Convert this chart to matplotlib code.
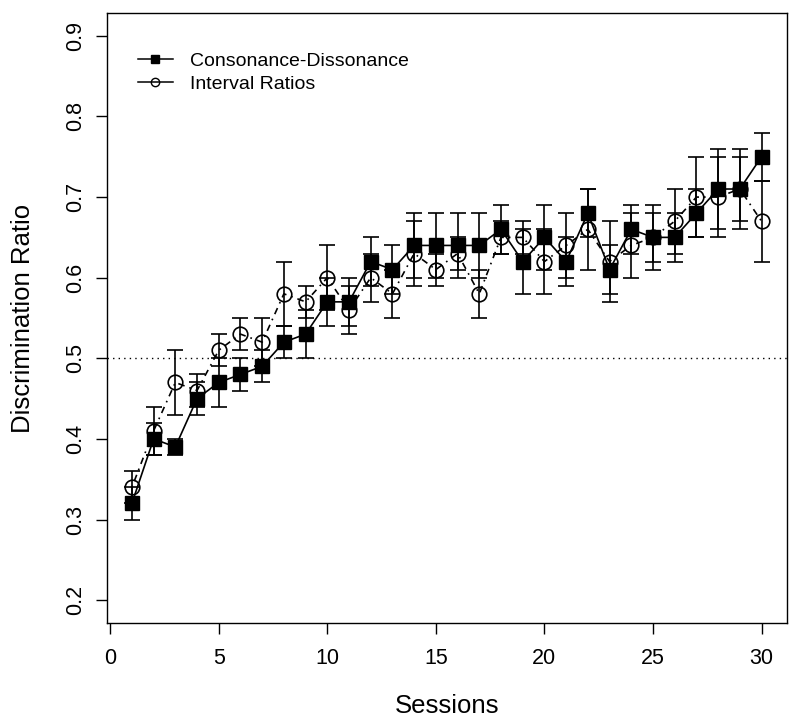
import matplotlib
matplotlib.use('Agg')
import matplotlib.pyplot as plt
from matplotlib.lines import Line2D

plt.rcParams['font.family'] = ['Liberation Sans', 'DejaVu Sans']

# values
sessions = list(range(1, 31))
cd = [0.32, 0.40, 0.39, 0.45, 0.47, 0.48, 0.49, 0.52, 0.53, 0.57,
      0.57, 0.62, 0.61, 0.64, 0.64, 0.64, 0.64, 0.66, 0.62, 0.65,
      0.62, 0.68, 0.61, 0.66, 0.65, 0.65, 0.68, 0.71, 0.71, 0.75]
cd_err = [0.02, 0.02, 0.01, 0.02, 0.03, 0.02, 0.02, 0.02, 0.03, 0.03,
          0.03, 0.03, 0.03, 0.04, 0.04, 0.04, 0.04, 0.03, 0.04, 0.04,
          0.03, 0.03, 0.03, 0.03, 0.04, 0.03, 0.03, 0.05, 0.05, 0.03]
ir = [0.34, 0.41, 0.47, 0.46, 0.51, 0.53, 0.52, 0.58, 0.57, 0.60,
      0.56, 0.60, 0.58, 0.63, 0.61, 0.63, 0.58, 0.65, 0.65, 0.62,
      0.64, 0.66, 0.62, 0.64, 0.65, 0.67, 0.70, 0.70, 0.71, 0.67]
ir_err = [0.02, 0.03, 0.04, 0.02, 0.02, 0.02, 0.03, 0.04, 0.02, 0.04,
          0.03, 0.03, 0.03, 0.04, 0.02, 0.02, 0.03, 0.02, 0.02, 0.04,
          0.04, 0.05, 0.05, 0.04, 0.03, 0.04, 0.05, 0.05, 0.04, 0.05]
chance = 0.5
labels = ['Consonance-Dissonance', 'Interval Ratios']

fig = plt.figure(figsize=(8, 7.26), dpi=100)
ax = fig.add_axes([0.1334, 0.1423, 0.85, 0.8394])

ax.axhline(chance, color='black', lw=1.0, linestyle=(0, (1, 3)))

ax.errorbar(sessions, ir, yerr=ir_err, fmt='o', color='black', ms=10.5,
            mfc='none', mew=1.2, linestyle=(0, (1, 3, 4, 3)), lw=1.2,
            elinewidth=1.2, capsize=6, capthick=1.2)
ax.errorbar(sessions, cd, yerr=cd_err, fmt='s-', color='black', ms=10.5,
            lw=1.2, elinewidth=1.2, capsize=6, capthick=1.2)

ax.set_xlim(-0.16, 31.16)
ax.set_ylim(0.172, 0.928)
ax.set_xticks([0, 5, 10, 15, 20, 25, 30])
ax.set_yticks([0.2, 0.3, 0.4, 0.5, 0.6, 0.7, 0.8, 0.9])
ax.tick_params(axis='both', direction='out', length=8, width=1.0,
               labelsize=15.5)
ax.tick_params(axis='x', pad=10)
ax.tick_params(axis='y', pad=7)
for lab in ax.get_yticklabels():
    lab.set_rotation(90)
    lab.set_va('center')
for sp in ax.spines.values():
    sp.set_linewidth(1.0)

ax.set_xlabel('Sessions', fontsize=18.5)
ax.set_ylabel('Discrimination Ratio', fontsize=18.5)
ax.xaxis.set_label_coords(0.5, -0.117)
ax.yaxis.set_label_coords(-0.106, 0.5)

handles = [Line2D([], [], color='black', marker='s', ms=6, lw=1.1),
           Line2D([], [], color='black', marker='o', ms=6, mfc='none', lw=1.1)]
ax.legend(handles, labels, loc='upper left', bbox_to_anchor=(0.02, 0.965),
          frameon=False, fontsize=14, handlelength=1.8, handletextpad=0.9,
          labelspacing=0.3)

fig.savefig('out.png', dpi=100)
